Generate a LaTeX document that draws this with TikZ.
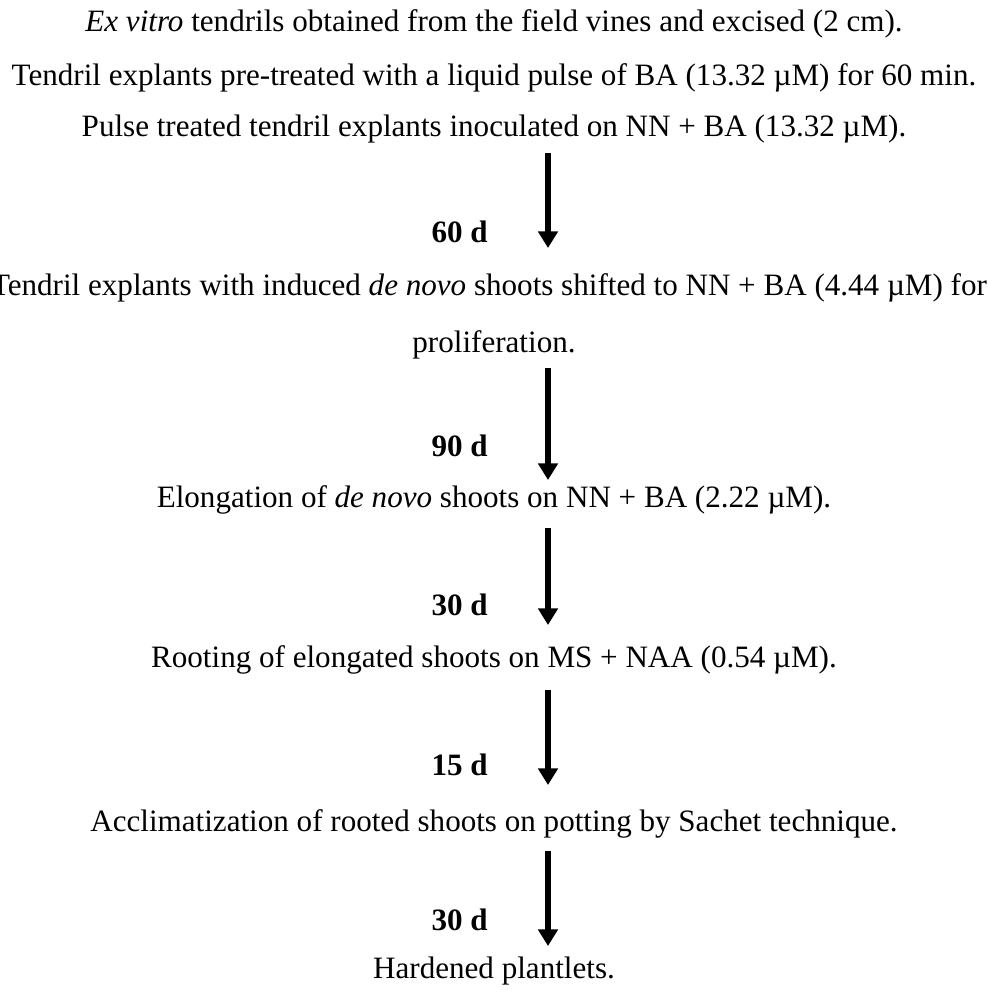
\documentclass[tikz,border=0pt]{standalone}
\usepackage{fontspec}
\setmainfont{Liberation Serif}
\usetikzlibrary{arrows.meta,calc}

\tikzset{
  steptext/.style={anchor=base, inner sep=0pt, font=\fontsize{12}{14}\selectfont},
  daytext/.style={anchor=base west, inner sep=0pt, font=\fontsize{12}{14}\selectfont\bfseries},
  flow/.style={line width=2.4pt, -{Triangle[width=7.4pt,length=6.4pt]}}
}

\begin{document}
\begin{tikzpicture}[x=0.386pt, y=-0.386pt]
  \useasboundingbox (0,0) rectangle (988,992);
  \coordinate (ax) at (548,0);

  % the protocol steps
  \node[steptext] (s1) at (494,32) {\textit{Ex vitro} tendrils obtained from the field vines and excised (2 cm).};
  \node[steptext] (s2) at (494,86) {Tendril explants pre-treated with a liquid pulse of BA (13.32 µM) for 60 min.};
  \node[steptext] (s3) at (494,137) {Pulse treated tendril explants inoculated on NN + BA (13.32 µM).};
  \node[steptext] (s4) at (489,296) {Tendril explants with induced \textit{de novo} shoots shifted to NN + BA (4.44 µM) for};
  \node[steptext] (s4b) at (494,352) {proliferation.};
  \node[steptext] (s5) at (494,507) {Elongation of \textit{de novo} shoots on NN + BA (2.22 µM).};
  \node[steptext] (s6) at (494,667) {Rooting of elongated shoots on MS + NAA (0.54 µM).};
  \node[steptext] (s7) at (494,831) {Acclimatization of rooted shoots on potting by Sachet technique.};
  \node[steptext] (s8) at (494,978) {Hardened plantlets.};

  % durations
  \node[daytext] (d1) at (431,243) {60 d};
  \node[daytext] (d2) at (431,456) {90 d};
  \node[daytext] (d3) at (431,615) {30 d};
  \node[daytext] (d4) at (431,775) {15 d};
  \node[daytext] (d5) at (431,930) {30 d};

  % arrows between the steps
  \draw[flow] ($(s3.base -| ax)+(0,16)$) -- ($(s4.base -| ax)+(0,-48)$);
  \draw[flow] ($(s4b.base -| ax)+(0,16)$) -- ($(s5.base -| ax)+(0,-27)$);
  \draw[flow] ($(s5.base -| ax)+(0,21)$) -- ($(s6.base -| ax)+(0,-42)$);
  \draw[flow] ($(s6.base -| ax)+(0,23)$) -- ($(s7.base -| ax)+(0,-46)$);
  \draw[flow] ($(s7.base -| ax)+(0,20)$) -- ($(s8.base -| ax)+(0,-32)$);
\end{tikzpicture}
\end{document}
